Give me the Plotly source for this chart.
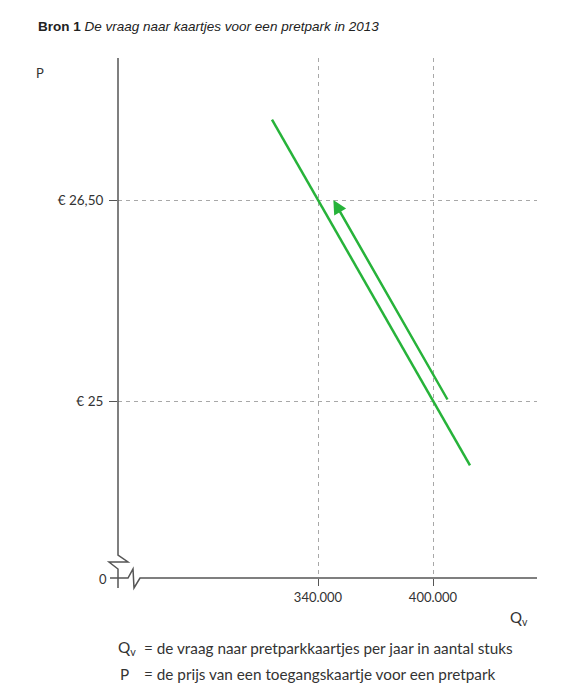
import plotly.graph_objects as go

# ---- data ----
price_ticks = [25, 26.5]
price_labels = ["€ 25", "€ 26,50"]
quantity_ticks = [340000, 400000]
quantity_labels = ["340.000", "400.000"]

demand_q = [316000, 419300]
demand_p = [27.10, 24.52]

shift_start_q = 408000
shift_start_p = 25.0
shift_end_q = 348000
shift_end_p = 26.5

GREEN = "#27b33a"
AXIS = "#555555"
FONT = "Lato"

fig = go.Figure()
fig.add_trace(go.Scatter(x=demand_q, y=demand_p, mode="lines",
                         line=dict(color=GREEN, width=2.5), showlegend=False,
                         hoverinfo="skip"))

# shift arrow
fig.add_annotation(x=shift_end_q, y=shift_end_p, ax=shift_start_q, ay=shift_start_p,
                   xref="x", yref="y", axref="x", ayref="y", text="",
                   showarrow=True, arrowhead=2, arrowsize=1.1, arrowwidth=2.5,
                   arrowcolor=GREEN, standoff=0)

# axis lines with break symbols (paper coords)
fig.add_shape(type="path", xref="paper", yref="paper",
              path="M 0 1 L 0 0.0442 L 0.0239 0.0308 L -0.0215 0.0308 L 0 0.0173 L 0 -0.0192",
              line=dict(color=AXIS, width=1.5))
fig.add_shape(type="path", xref="paper", yref="paper",
              path="M -0.0191 0 L 0.0239 0 L 0.0358 0.0173 L 0.0382 -0.0192 L 0.0525 0 L 1 0",
              line=dict(color=AXIS, width=1.5))

fig.update_xaxes(range=[235652, 454261], tickvals=quantity_ticks, ticktext=quantity_labels,
                 ticks="outside", ticklen=7, tickcolor=AXIS, tickwidth=1.3,
                 showgrid=True, gridcolor="#a8a8a8", griddash="4px,4px", gridwidth=1,
                 zeroline=False, showline=False,
                 tickfont=dict(family=FONT, size=13, color="#333333"))
fig.update_yaxes(range=[23.679, 27.560], tickvals=price_ticks, ticktext=price_labels,
                 ticks="outside", ticklen=8, tickcolor=AXIS, tickwidth=1.3,
                 ticklabelstandoff=3,
                 showgrid=True, gridcolor="#a8a8a8", griddash="4px,4px", gridwidth=1,
                 zeroline=False, showline=False,
                 tickfont=dict(family=FONT, size=13.5, color="#333333"))

# texts
def txt(x, y, s, size=13, xanchor="left", yanchor="middle", family=FONT, color="#333333"):
    fig.add_annotation(x=x, y=y, xref="paper", yref="paper", text=s, showarrow=False,
                       xanchor=xanchor, yanchor=yanchor,
                       font=dict(family=family, size=size, color=color))

def px(xp):
    return (xp - 118) / 419

def py(yp):
    return (578 - yp) / 520

txt(px(36), py(27), "<b>Bron 1</b> <i>De vraag naar kaartjes voor een pretpark in 2013</i>",
    size=13.5, family="Liberation Sans", color="#222222")
txt(px(40), py(73), "P", xanchor="center")
txt(px(103), py(579), "0", xanchor="center")
txt(px(519), py(618), "Q<sub>v</sub>", size=15, xanchor="center")
txt(px(116), py(648), "Q<sub>v</sub>", size=15.3)
txt(px(142), py(648), "= de vraag naar pretparkkaartjes per jaar in aantal stuks", size=15.3)
txt(px(118), py(674), "P", size=15.3)
txt(px(142), py(674), "= de prijs van een toegangskaartje voor een pretpark", size=15.3)

fig.update_layout(width=561, height=691, margin=dict(l=110, r=32, t=50, b=121),
                  plot_bgcolor="white", paper_bgcolor="white", showlegend=False)

fig.write_html("out.html")
